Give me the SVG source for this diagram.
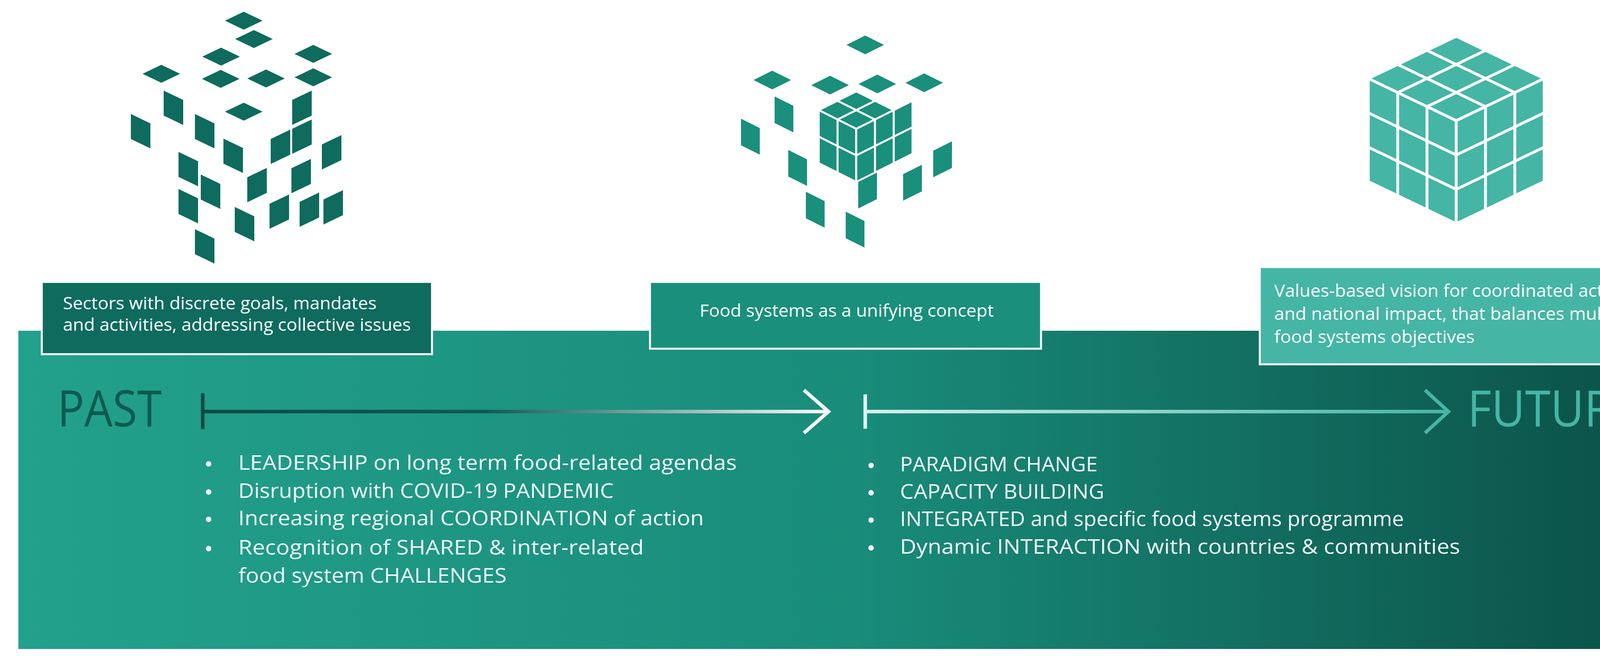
<svg xmlns="http://www.w3.org/2000/svg" xmlns:xlink="http://www.w3.org/1999/xlink" width="4342" height="1680" viewBox="0 0 4342 1680">
<defs>
<style>
text{font-family:"Open Sans","Liberation Sans",sans-serif}
.bt{fill:#f2fbf9;font-size:51px}
.box{stroke:#ffffff;stroke-width:5}
.bx{fill:#ffffff;font-size:43px}
.c1{fill:#0e6b5e}.c2{fill:#1a8f7c}.c3{fill:#45b5a5}
.g3 use{stroke:#ffffff;stroke-width:7}
</style>
<linearGradient id="band" x1="0" y1="0" x2="1" y2="0">
<stop offset="0" stop-color="#22a18c"/>
<stop offset="0.5" stop-color="#198c7a"/>
<stop offset="1" stop-color="#0a4d44"/>
</linearGradient>
<linearGradient id="a1" gradientUnits="userSpaceOnUse" x1="519" y1="0" x2="2125" y2="0">
<stop offset="0" stop-color="#0b4a42"/>
<stop offset="0.45" stop-color="#0f5a50"/>
<stop offset="1" stop-color="#ffffff"/>
</linearGradient>
<linearGradient id="a2" gradientUnits="userSpaceOnUse" x1="2215" y1="0" x2="3710" y2="0">
<stop offset="0" stop-color="#d8f2ec"/>
<stop offset="1" stop-color="#45b5a5"/>
</linearGradient>
<polygon id="td" points="-48,0 0,-23 48,0 0,23"/>
<polygon id="lf" points="-25,-44 25,-20 25,44 -25,20"/>
<polygon id="rf" points="-25,-20 25,-44 25,20 -25,44"/>
<polygon id="mtd" points="-48,0 0,-24 48,0 0,24"/>
<polygon id="mlf" points="-24,-46 24,-22 24,46 -24,22"/>
<polygon id="mrf" points="-24,-22 24,-46 24,22 -24,46"/>
<polygon id="T" points="0,0 75,-36 0,-72 -75,-36"/>
<polygon id="L" points="0,0 -75,-36 -75,52 0,88"/>
<polygon id="R" points="0,0 75,-36 75,52 0,88"/>
</defs>
<rect width="4342" height="1680" fill="#ffffff"/>
<rect x="47" y="847" width="4295" height="815" fill="url(#band)"/>

<g id="cube-past" class="c1">
<use href="#td" x="624" y="53"/><use href="#td" x="650" y="100"/><use href="#td" x="566" y="145"/><use href="#td" x="802" y="138"/>
<use href="#td" x="413" y="189"/><use href="#td" x="565" y="202"/><use href="#td" x="681" y="201"/><use href="#td" x="802" y="198"/><use href="#td" x="624" y="286"/>
<use href="#lf" x="444" y="276"/><use href="#lf" x="360" y="336"/><use href="#lf" x="524" y="336"/><use href="#lf" x="597" y="399"/><use href="#lf" x="482" y="433"/>
<use href="#lf" x="539" y="491"/><use href="#lf" x="482" y="528"/><use href="#lf" x="626" y="574"/><use href="#lf" x="524" y="631"/>
<use href="#rf" x="773" y="276"/><use href="#rf" x="718" y="376"/><use href="#rf" x="773" y="350"/><use href="#rf" x="849" y="390"/><use href="#rf" x="658" y="474"/>
<use href="#rf" x="771" y="451"/><use href="#rf" x="715" y="542"/><use href="#rf" x="792" y="537"/><use href="#rf" x="853" y="531"/>
</g>

<g id="cube-mid" class="c2">
<use href="#mtd" x="2215" y="115"/><use href="#mtd" x="1977" y="205"/><use href="#mtd" x="2125" y="218"/><use href="#mtd" x="2246" y="215"/><use href="#mtd" x="2366" y="212"/>
<g stroke="#ffffff" stroke-width="5">
<use href="#mtd" x="2192" y="306"/><use href="#mtd" x="2144" y="282"/><use href="#mtd" x="2240" y="282"/><use href="#mtd" x="2192" y="258"/>
<use href="#mlf" x="2168" y="352"/><use href="#mlf" x="2168" y="420"/><use href="#mlf" x="2120" y="328"/><use href="#mlf" x="2120" y="396"/>
<use href="#mrf" x="2216" y="352"/><use href="#mrf" x="2216" y="420"/><use href="#mrf" x="2264" y="328"/><use href="#mrf" x="2264" y="396"/><use href="#mrf" x="2312" y="304"/><use href="#mrf" x="2312" y="372"/>
</g>
<use href="#mlf" x="2007" y="293"/><use href="#mlf" x="1921" y="350"/><use href="#mlf" x="2042" y="430"/><use href="#mlf" x="2087" y="537"/><use href="#mlf" x="2189" y="588"/>
<use href="#mrf" x="2221" y="488"/><use href="#mrf" x="2336" y="468"/><use href="#mrf" x="2413" y="408"/>
</g>

<g id="cube-future" class="c3 g3" transform="translate(3728,309)">
<use href="#T" x="0" y="0"/><use href="#T" x="75" y="-36"/><use href="#T" x="150" y="-72"/>
<use href="#T" x="-75" y="-36"/><use href="#T" x="0" y="-72"/><use href="#T" x="75" y="-108"/>
<use href="#T" x="-150" y="-72"/><use href="#T" x="-75" y="-108"/><use href="#T" x="0" y="-144"/>
<use href="#L" x="0" y="0"/><use href="#L" x="-75" y="-36"/><use href="#L" x="-150" y="-72"/>
<use href="#L" x="0" y="88"/><use href="#L" x="-75" y="52"/><use href="#L" x="-150" y="16"/>
<use href="#L" x="0" y="176"/><use href="#L" x="-75" y="140"/><use href="#L" x="-150" y="104"/>
<use href="#R" x="0" y="0"/><use href="#R" x="75" y="-36"/><use href="#R" x="150" y="-72"/>
<use href="#R" x="0" y="88"/><use href="#R" x="75" y="52"/><use href="#R" x="150" y="16"/>
<use href="#R" x="0" y="176"/><use href="#R" x="75" y="140"/><use href="#R" x="150" y="104"/>
</g>

<g id="box-past">
<rect class="box" x="107" y="722" width="999" height="185" fill="#0e6b5e"/>
<text class="bx" x="161" y="792" textLength="803" lengthAdjust="spacingAndGlyphs">Sectors with discrete goals, mandates</text>
<text class="bx" x="161" y="847" textLength="891" lengthAdjust="spacingAndGlyphs">and activities, addressing collective issues</text>
</g>
<g id="box-mid">
<rect class="box" x="1664" y="722" width="1001" height="171" fill="#1a8f7c"/>
<text class="bx" x="1791" y="811" textLength="753" lengthAdjust="spacingAndGlyphs">Food systems as a unifying concept</text>
</g>
<g id="box-future">
<rect class="box" x="3225" y="684" width="1002" height="249" fill="#45b5a5"/>
<text class="bx" x="3262" y="760" textLength="910" lengthAdjust="spacingAndGlyphs">Values-based vision for coordinated action</text>
<text class="bx" x="3262" y="819" textLength="932" lengthAdjust="spacingAndGlyphs">and national impact, that balances multiple</text>
<text class="bx" x="3262" y="878" textLength="513" lengthAdjust="spacingAndGlyphs">food systems objectives</text>
</g>

<g id="label-past"><text x="147" y="1092" font-size="128" fill="#0c5a50" textLength="267" lengthAdjust="spacingAndGlyphs">PAST</text></g>
<g id="label-future"><text x="3757" y="1092" font-size="128" fill="#45b5a5" textLength="437" lengthAdjust="spacingAndGlyphs">FUTURE</text></g>

<g id="connectors" fill="none" stroke-width="9">
<line x1="519" y1="1007" x2="519" y2="1099" stroke="#0b4a42"/>
<line x1="519" y1="1054" x2="2118" y2="1054" stroke="url(#a1)"/>
<polyline points="2058,999 2121,1054 2058,1109" stroke="#f4faf8"/>
<line x1="2215" y1="1010" x2="2215" y2="1098" stroke="#e4f6f2"/>
<line x1="2215" y1="1054" x2="3704" y2="1054" stroke="url(#a2)"/>
<polyline points="3648,999 3708,1054 3648,1109" stroke="#45b5a5"/>
</g>

<g id="bullets-past" class="bt">
<circle cx="534" cy="1188" r="7" fill="#f2fbf9"/><circle cx="534" cy="1260" r="7" fill="#f2fbf9"/><circle cx="534" cy="1330" r="7" fill="#f2fbf9"/><circle cx="534" cy="1405" r="7" fill="#f2fbf9"/>
<text x="610" y="1203" textLength="1276" lengthAdjust="spacingAndGlyphs">LEADERSHIP on long term food-related agendas</text>
<text x="610" y="1275" textLength="961" lengthAdjust="spacingAndGlyphs">Disruption with COVID-19 PANDEMIC</text>
<text x="610" y="1345" textLength="1192" lengthAdjust="spacingAndGlyphs">Increasing regional COORDINATION of action</text>
<text x="610" y="1420" textLength="1038" lengthAdjust="spacingAndGlyphs">Recognition of SHARED &amp; inter-related</text>
<text x="610" y="1492" textLength="687" lengthAdjust="spacingAndGlyphs">food system CHALLENGES</text>
</g>
<g id="bullets-future" class="bt">
<circle cx="2230" cy="1192" r="7" fill="#f2fbf9"/><circle cx="2230" cy="1262" r="7" fill="#f2fbf9"/><circle cx="2230" cy="1332" r="7" fill="#f2fbf9"/><circle cx="2230" cy="1403" r="7" fill="#f2fbf9"/>
<text x="2304" y="1207" textLength="506" lengthAdjust="spacingAndGlyphs">PARADIGM CHANGE</text>
<text x="2304" y="1277" textLength="523" lengthAdjust="spacingAndGlyphs">CAPACITY BUILDING</text>
<text x="2304" y="1347" textLength="1290" lengthAdjust="spacingAndGlyphs">INTEGRATED and specific food systems programme</text>
<text x="2304" y="1418" textLength="1434" lengthAdjust="spacingAndGlyphs">Dynamic INTERACTION with countries &amp; communities</text>
</g>
</svg>
